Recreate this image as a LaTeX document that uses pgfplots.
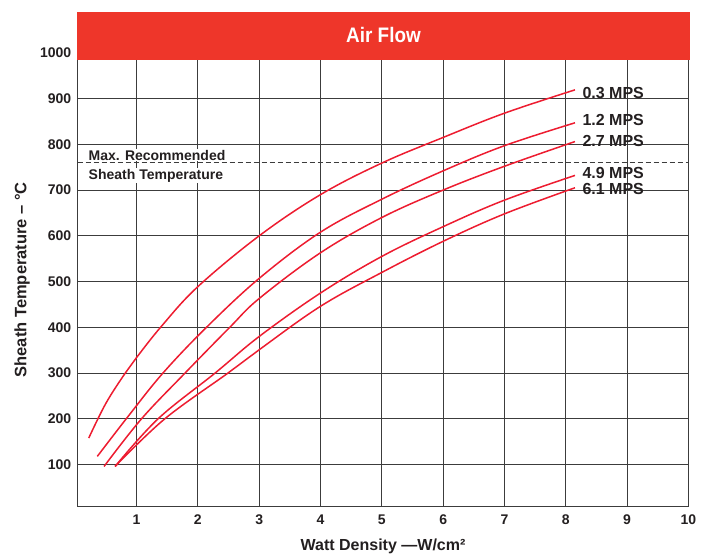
\documentclass[border=0pt]{standalone}
\usepackage{fontspec}
\setmainfont{Liberation Sans}
\usepackage{pgfplots}
\pgfplotsset{compat=1.18}

\definecolor{barred}{RGB}{238,54,42}
\definecolor{curvered}{RGB}{237,28,48}
\definecolor{ink}{RGB}{35,31,32}
\definecolor{gridgray}{RGB}{60,60,60}

\newcommand{\fs}[1]{\bfseries\fontsize{#1}{#1}\selectfont}
\tikzset{flow/.style={curvered, line width=1.5pt, smooth, tension=0.6, mark=none}}

\begin{document}
\begin{tikzpicture}
\begin{axis}[
  at={(77.7pt,47.3pt)}, anchor=south west,
  scale only axis, width=610.7pt, height=453.9pt,
  xmin=0.04, xmax=10, ymin=8, ymax=1000,
  xtick={1,...,10}, ytick={100,200,...,1000},
  grid=major,
  major grid style={gridgray, line width=1pt},
  axis line style={gridgray, line width=1pt},
  major tick length=0pt,
  /pgf/number format/assume math mode=true,
  /pgf/number format/1000 sep={},
  ticklabel style={font=\fs{14}, text=ink},
  xticklabel style={anchor=center, yshift=-13.3pt},
  yticklabel style={anchor=east, xshift=-3pt},
  xlabel={Watt Density —W/cm²},
  ylabel={Sheath Temperature – °C},
  xlabel style={at={(rel axis cs:0.5,0)}, anchor=center, yshift=-39.3pt, font=\fs{16}, text=ink},
  ylabel style={at={(rel axis cs:0,0.5)}, anchor=center, yshift=55.7pt, font=\fs{16.5}, text=ink},
  clip=false,
]
\node[anchor=base west, fill=white, inner sep=1pt, font=\fs{14}, text=ink] at (axis cs:0.2,765) {Max. Recommended};
\node[anchor=base west, fill=white, inner sep=1pt, font=\fs{14}, text=ink] at (axis cs:0.2,724) {Sheath Temperature};
\addplot[gridgray, line width=1pt, dash pattern=on 5pt off 3pt, mark=none] coordinates {(0.04,760) (10,760)};

% 0.3 MPS
\addplot[flow] coordinates {(0.22,158) (0.5,234) (0.81,299) (1,334) (1.41,403) (2,489) (3,600) (4,690) (5,759) (6,815) (7,868) (8.15,919)};
% 1.2 MPS
\addplot[flow] coordinates {(0.36,118) (0.86,205) (1.43,300) (2.14,400) (3,507) (4,608) (5,680) (6,742) (7,797) (8.15,847)};
% 2.7 MPS
\addplot[flow] coordinates {(0.47,96) (1.08,200) (1.79,300) (2.52,400) (3,463) (4,563) (5,640) (6,700) (7,752) (8.15,806)};
% 4.9 MPS
\addplot[flow] coordinates {(0.65,96) (1.35,200) (2.28,300) (3,380) (4,475) (5,555) (6,620) (7,678) (8.15,732)};
% 6.1 MPS
\addplot[flow] coordinates {(0.65,96) (1.46,200) (2.49,300) (3,351) (4,446) (5,520) (6,588) (7,648) (8.15,705)};

\node[anchor=base west, inner sep=0pt, font=\fs{16}, text=ink] at (axis cs:8.27,900) {0.3 MPS};
\node[anchor=base west, inner sep=0pt, font=\fs{16}, text=ink] at (axis cs:8.27,842) {1.2 MPS};
\node[anchor=base west, inner sep=0pt, font=\fs{16}, text=ink] at (axis cs:8.27,795) {2.7 MPS};
\node[anchor=base west, inner sep=0pt, font=\fs{16}, text=ink] at (axis cs:8.27,726) {4.9 MPS};
\node[anchor=base west, inner sep=0pt, font=\fs{16}, text=ink] at (axis cs:8.27,691) {6.1 MPS};
\end{axis}
\fill[barred] (77pt,494pt) rectangle (690pt,542pt);
\node[text=white, font=\fs{21}, xscale=0.9, transform shape] at (383.5pt,519pt) {Air Flow};
\pgfresetboundingbox
\path[use as bounding box] (0,0) rectangle (703pt,554pt);
\end{tikzpicture}
\end{document}
